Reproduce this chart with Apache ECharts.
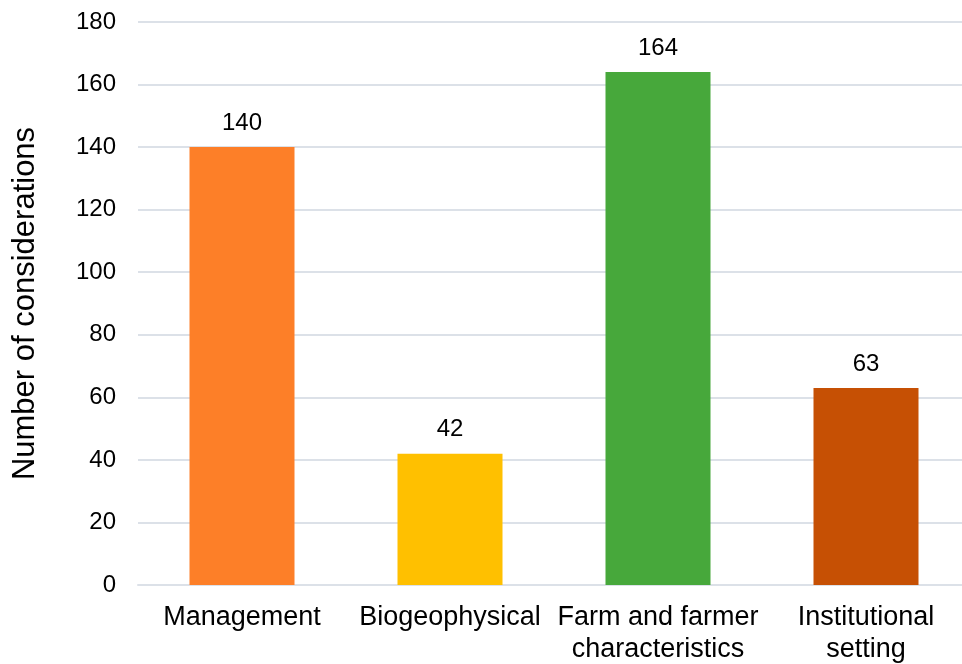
<!DOCTYPE html>
<html lang="en">
<head>
  <meta charset="UTF-8">
  <title>Number of considerations</title>
  <script src="https://cdn.jsdelivr.net/npm/echarts@6/dist/echarts.min.js"></script>
  <style>
    html, body { margin: 0; padding: 0; background: #fff; }
    #chart { width: 962px; height: 664px; }
  </style>
</head>
<body>
  <div id="chart"></div>
  <script>
    var categories = ['Management', 'Biogeophysical', 'Farm and farmer\ncharacteristics', 'Institutional\nsetting']
    var counts = [140, 42, 164, 63]
    var barColors = ['#FD7F28', '#FFC000', '#47A83B', '#C65004']

    var mCharts = echarts.init(document.getElementById('chart'))

    var option = {
      animation: false,
      // plot area runs a little past the right edge, like the original
      grid: { left: 138, width: 832, top: 22, bottom: 79, outerBoundsMode: 'none' },
      xAxis: {
        type: 'category',
        data: categories,
        axisTick: { show: false },
        axisLine: { lineStyle: { color: '#DCE1E8', width: 2 } },
        axisLabel: {
          color: '#000',
          fontFamily: 'Liberation Sans, Arial',
          fontSize: 27,
          lineHeight: 32,
          margin: 17,
          interval: 0
        }
      },
      yAxis: {
        type: 'value',
        min: 0,
        max: 180,
        interval: 20,
        name: 'Number of considerations',
        nameLocation: 'middle',
        nameGap: 97,
        nameTextStyle: { color: '#000', fontFamily: 'Liberation Sans, Arial', fontSize: 31 },
        axisLine: { show: false },
        axisTick: { show: false },
        axisLabel: { color: '#000', fontFamily: 'Liberation Sans, Arial', fontSize: 24, margin: 22 },
        splitLine: { lineStyle: { color: '#DCE1E8', width: 2 } }
      },
      series: [
        {
          type: 'bar',
          barWidth: 105,
          data: counts.map(function (v, i) {
            return { value: v, itemStyle: { color: barColors[i] } }
          }),
          label: {
            show: true,
            position: 'top',
            distance: 12,
            color: '#000',
            fontFamily: 'Liberation Sans, Arial',
            fontSize: 24
          }
        }
      ]
    }
    mCharts.setOption(option)
  </script>
</body>
</html>
